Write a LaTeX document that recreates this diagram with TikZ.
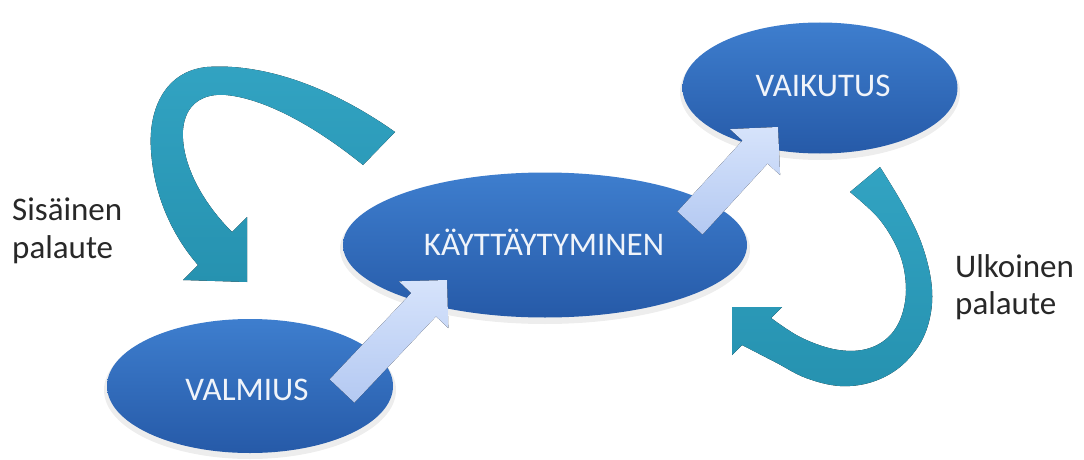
\documentclass[tikz,border=0pt]{standalone}
\usepackage{fontspec}
\setmainfont{Carlito}
\usetikzlibrary{shapes.geometric,calc}

\definecolor{ellTop}{RGB}{62,126,206}
\definecolor{ellBot}{RGB}{38,90,168}
\definecolor{tealTop}{RGB}{50,163,194}
\definecolor{tealBot}{RGB}{38,146,176}
\definecolor{paleTop}{RGB}{214,227,251}
\definecolor{paleBot}{RGB}{180,201,242}
\definecolor{labelInk}{RGB}{40,40,40}
\definecolor{capInk}{RGB}{240,244,250}

% straight block arrow from a tail coordinate to a tip coordinate
\newcommand\blockarrow[2]{%
  \coordinate (#1-base) at ($(#2)!34pt!(#1)$);
  \fill[blockfill]
    ($(#1)!17pt!90:(#2)$) -- ($(#1-base)!17pt!90:(#2)$)
    -- ($(#1-base)!34pt!90:(#2)$) -- (#2)
    -- ($(#1-base)!34pt!-90:(#2)$) -- ($(#1-base)!17pt!-90:(#2)$)
    -- ($(#1)!17pt!-90:(#2)$) -- cycle;}

\begin{document}
\begin{tikzpicture}[x=1pt,y=-1pt,
  blob/.style={ellipse, inner sep=0, draw=none, top color=ellTop, bottom color=ellBot},
  blobshadow/.style={black, opacity=0.07},
  captext/.style={font=\fontsize{33}{38}\selectfont, text=capInk, inner sep=0, anchor=base},
  sidetext/.style={font=\fontsize{33}{38}\selectfont, text=labelInk, inner sep=0, anchor=base west},
  loopband/.style={top color=tealTop, bottom color=tealBot},
  blockfill/.style={top color=paleTop, bottom color=paleBot},
]
\useasboundingbox (0,0) rectangle (1084,460);
\fill[white] (0,0) rectangle (1084,460);

% soft shadows under the ellipses
\fill[blobshadow] (250,390) ellipse [x radius=146, y radius=69];
\fill[blobshadow] (545,249) ellipse [x radius=205, y radius=75];
\fill[blobshadow] (820,92) ellipse [x radius=140, y radius=68];

% ellipses
\node[blob, minimum width=286, minimum height=134] (valmius) at (250,386) {};
\node[blob, minimum width=404, minimum height=145] (kaytt) at (545,245) {};
\node[blob, minimum width=275, minimum height=131] (vaikutus) at (820,88) {};

\node[captext] (valmiusLabel) at (247,400) {VALMIUS};
\node[captext] (kayttLabel) at (544,255) {KÄYTTÄYTYMINEN};
\node[captext] (vaikutusLabel) at (823,96) {VAIKUTUS};

% straight arrows between the ellipses
\coordinate (a1tail) at (342,391);
\coordinate (a1tip) at (447,280);
\coordinate (a2tail) at (690,223);
\coordinate (a2tip) at (778,127);
\blockarrow{a1tail}{a1tip}
\blockarrow{a2tail}{a2tip}

% inner feedback loop (left)
\fill[loopband]
  (395,132) .. controls (330,86) and (262,63) .. (207,67)
  .. controls (166,71) and (148,108) .. (151,150)
  .. controls (154,200) and (176,240) .. (198,265)
  -- (183,280) -- (247,282) -- (247,217) -- (232,232)
  .. controls (202,202) and (181,163) .. (183,130)
  .. controls (185,104) and (203,93) .. (226,95)
  .. controls (268,99) and (320,130) .. (363,165)
  -- cycle;

% outer feedback loop (right)
\fill[loopband]
  plot[smooth, tension=0.6] coordinates {(880,167) (903,205) (921,242) (931,280) (931,312) (921,342) (900,367) (872,382) (840,386) (806,378) (775,362) (742,345)}
  -- (732,355) -- (732,307) -- (782,307)
  -- plot[smooth, tension=0.6] coordinates {(771,318) (800,337) (833,349) (862,350) (885,340) (900,320) (906,290) (900,255) (880,220) (850,192)}
  -- cycle;

% side labels
\node[sidetext] (sisainen) at (12,220) {Sisäinen};
\node[sidetext] (sisPalaute) at (12,258) {palaute};
\node[sidetext] (ulkoinen) at (955,277) {Ulkoinen};
\node[sidetext] (ulkPalaute) at (955,314) {palaute};
\end{tikzpicture}
\end{document}
